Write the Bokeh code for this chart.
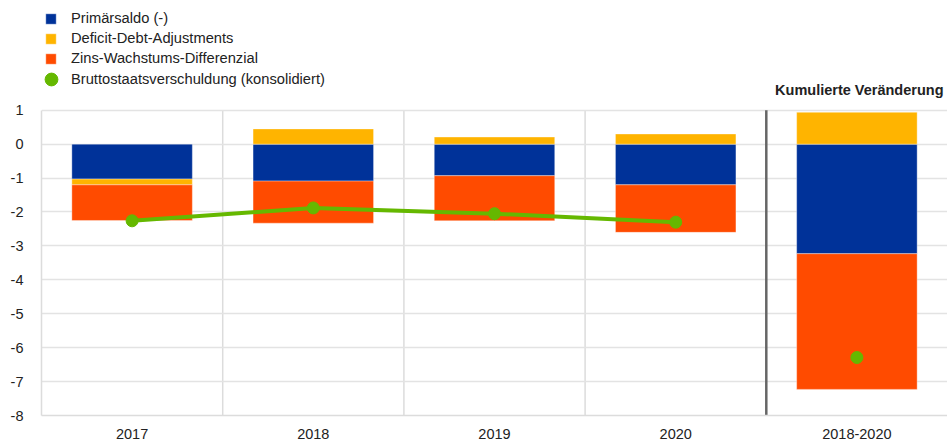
from bokeh.plotting import figure
from bokeh.models import (ColumnDataSource, FactorRange, Legend, LegendItem, Label,
                          FixedTicker, Range1d)
from bokeh.embed import file_html
from bokeh.resources import INLINE

categories = ["2017", "2018", "2019", "2020", "2018-2020"]
primaersaldo = [-1.03, -1.09, -0.93, -1.20, -3.23]
dda = [-0.17, 0.45, 0.21, 0.30, 0.94]
zins_wachstum = [-1.05, -1.24, -1.33, -1.40, -4.00]
schulden = [-2.26, -1.88, -2.05, -2.30, -6.29]
line_years = ["2017", "2018", "2019", "2020"]
y_ticks = [1, 0, -1, -2, -3, -4, -5, -6, -7, -8]
y_tick_labels = ["1", "0", "-1", "-2", "-3", "-4", "-5", "-6", "-7", "-8"]

names = ["Primärsaldo (-)", "Deficit-Debt-Adjustments", "Zins-Wachstums-Differenzial",
         "Bruttostaatsverschuldung (konsolidiert)"]
colors = ["#003299", "#FFB400", "#FF4B00", "#65B800"]
panel_title = "Kumulierte Veränderung"
FONT = "Liberation Sans"

Y_MIN, Y_MAX = -8, 1
PX_PER_UNIT = 34.0
FRAME_H = 416
W, H = 947, 441

# stacking: positives up from 0, negatives down from 0, in series order
series = [primaersaldo, dda, zins_wachstum]
bottoms = [[0.0] * len(categories) for _ in series]
tops = [[0.0] * len(categories) for _ in series]
for j in range(len(categories)):
    pos, neg = 0.0, 0.0
    for i, s in enumerate(series):
        v = s[j]
        if v >= 0:
            bottoms[i][j] = pos
            tops[i][j] = pos + v
            pos += v
        else:
            bottoms[i][j] = neg
            tops[i][j] = neg + v
            neg += v

# the frame reaches the top of the canvas so that legend and heading sit inside it
y_top = Y_MIN + FRAME_H / PX_PER_UNIT
p = figure(x_range=FactorRange(*categories), y_range=Range1d(Y_MIN, y_top), width=W, height=H,
           output_backend="svg", toolbar_location=None,
           min_border_left=41, min_border_right=0, min_border_top=0,
           min_border_bottom=H - FRAME_H)
p.outline_line_color = None

bars = []
for i in range(3):
    src = ColumnDataSource(dict(x=categories, top=tops[i], bottom=bottoms[i]))
    bars.append(p.vbar(x="x", top="top", bottom="bottom", width=0.665, source=src,
                       fill_color=colors[i], line_color="white", line_width=0.6,
                       line_alpha=0.6))

# category separators (light) and the separator before the cumulative column (dark)
n = len(categories)
sep = ColumnDataSource(dict(x=list(range(1, n - 1)), y0=[Y_MIN] * (n - 2), y1=[Y_MAX] * (n - 2)))
p.segment(x0="x", x1="x", y0="y0", y1="y1", source=sep, line_color="#dcdcdc", line_width=1.5,
          level="underlay")
p.segment(x0=[n - 1], x1=[n - 1], y0=[Y_MIN], y1=[Y_MAX], line_color="#666666", line_width=2.5)

lsrc = ColumnDataSource(dict(x=line_years, y=schulden[:4]))
p.line(x="x", y="y", source=lsrc, line_color=colors[3], line_width=4)
psrc = ColumnDataSource(dict(x=categories, y=schulden))
dots = p.scatter(x="x", y="y", source=psrc, size=12, marker="circle",
                 fill_color=colors[3], line_color=colors[3])

p.ygrid.ticker = FixedTicker(ticks=y_ticks)
p.ygrid.grid_line_color = "#e3e3e3"
p.ygrid.grid_line_width = 1.5
p.xgrid.grid_line_color = None

p.yaxis.ticker = FixedTicker(ticks=y_ticks)
p.yaxis.bounds = (Y_MIN, Y_MAX)
p.yaxis.major_label_overrides = {t: lab for t, lab in zip(y_ticks, y_tick_labels)}
p.yaxis.axis_line_color = "#dcdcdc"
p.yaxis.axis_line_width = 1.5
p.yaxis.major_tick_line_color = None
p.yaxis.minor_tick_line_color = None
p.yaxis.major_label_standoff = 12
p.xaxis.axis_line_color = "#dcdcdc"
p.xaxis.axis_line_width = 1.5
p.xaxis.major_tick_line_color = None
p.xaxis.major_label_standoff = 7
for ax in (p.xaxis, p.yaxis):
    ax.major_label_text_font = FONT
    ax.major_label_text_font_size = "14.5px"
    ax.major_label_text_color = "#222222"


def style_legend(lg):
    lg.label_text_font = FONT
    lg.label_text_font_size = "14.7px"
    lg.label_text_color = "#222222"
    lg.padding = 0
    lg.margin = 0
    lg.spacing = 0
    lg.border_line_color = None
    lg.background_fill_alpha = 0


lg1 = Legend(items=[LegendItem(label=names[i], renderers=[bars[i]]) for i in range(3)],
             location=(3, FRAME_H - 69))
style_legend(lg1)
lg1.glyph_width = 13
lg1.glyph_height = 13
lg1.label_height = 20
lg1.label_standoff = 14
p.add_layout(lg1, "center")

lg2 = Legend(items=[LegendItem(label=names[3], renderers=[dots])], location=(-6, FRAME_H - 96))
style_legend(lg2)
lg2.glyph_width = 32
lg2.glyph_height = 32
lg2.label_height = 32
lg2.label_standoff = 4
p.add_layout(lg2, "center")

p.add_layout(Label(x=n, y=Y_MAX, x_offset=-4, y_offset=20, text=panel_title,
                   text_align="right", text_baseline="middle", text_font=FONT,
                   text_font_size="14.5px", text_font_style="bold", text_color="#222222"))

open("out.html", "w").write(file_html(p, INLINE))
